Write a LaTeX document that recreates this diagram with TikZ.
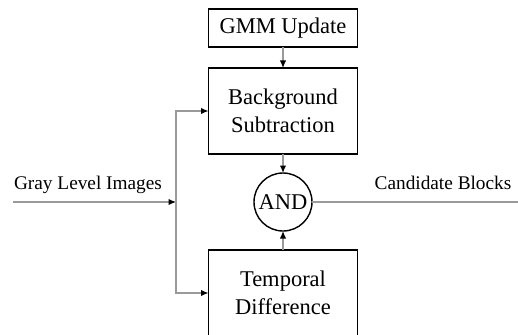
\documentclass[tikz,border=0pt]{standalone}
\usepackage{fontspec}
\setmainfont{Liberation Serif}
\usetikzlibrary{arrows.meta,positioning}
\definecolor{LineGray}{HTML}{9A9A9A}
\tikzset{
  >={Latex[length=7.5pt,width=6.5pt,color=black]},
  block/.style={rectangle, draw=black, line width=1.8pt, fill=white,
    align=center, minimum width=149pt, inner sep=2pt, outer sep=0pt,
    font=\fontsize{22.5}{28}\selectfont},
  gate/.style={circle, draw=black, line width=1.4pt, minimum size=58pt,
    inner sep=0pt, outer sep=0pt, font=\fontsize{22.5}{28}\selectfont},
  signal/.style={font=\fontsize{19.3}{23}\selectfont, anchor=base},
  flow/.style={draw=LineGray, ->, line width=1.3pt},
  wire/.style={draw=LineGray, line width=1.3pt}
}
\begin{document}
\begin{tikzpicture}[x=1pt, y=1pt, node distance=19pt]
\useasboundingbox (0,0) rectangle (518,-334);
\clip (0,0) rectangle (518,-334);

\node[block, minimum height=38pt] (gmm) at (283,-28) {GMM Update};
\node[block, minimum height=86pt, below=21pt of gmm] (bgs) {Background\\Subtraction};
\node[gate, below=of bgs] (and) {AND};
\node[block, minimum height=86pt, below=of and] (td) {Temporal\\Difference};

% side positions of the input and output lines
\coordinate (inx)    at (13,0);
\coordinate (splitx) at (176,0);
\coordinate (outx)   at (518,0);
\coordinate (in)    at (and -| inx);
\coordinate (split) at (and -| splitx);
\coordinate (out)   at (and -| outx);

\node[signal] (inlabel)  at (88,-189)  {Gray Level Images};
\node[signal] (outlabel) at (443,-189) {Candidate Blocks};

\draw[flow] (gmm)   -- (bgs);
\draw[flow] (bgs)   -- (and);
\draw[flow] (td)    -- (and);
\draw[flow] (in)    -- (split);
\draw[flow] (split) |- (bgs.west);
\draw[flow] (split) |- (td.west);
\draw[wire] (and.east) -- (out);

\end{tikzpicture}
\end{document}
